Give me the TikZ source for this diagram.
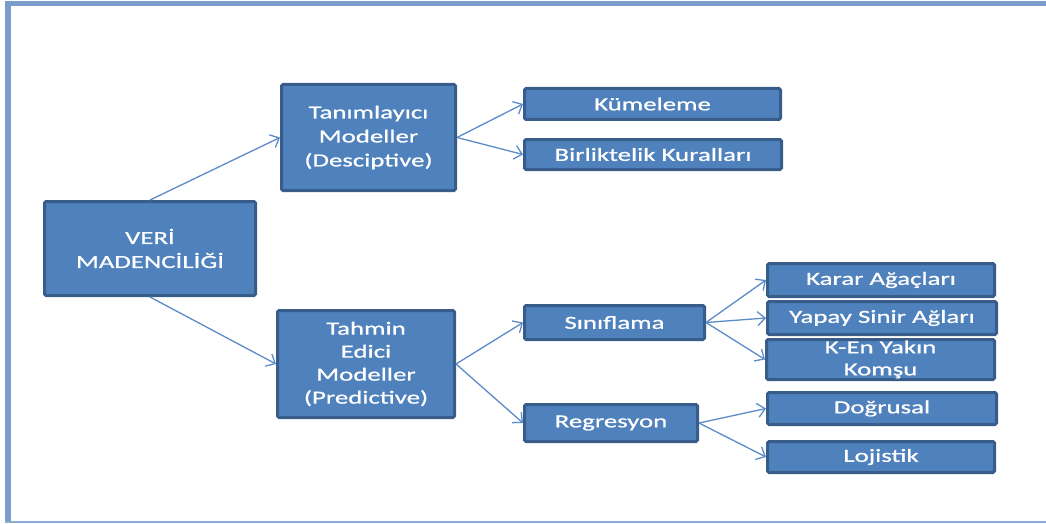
\documentclass[tikz,border=0pt]{standalone}
\usepackage{fontspec}
\setmainfont[FakeStretch=1.45,FakeBold=0.8]{Carlito}
\usetikzlibrary{arrows.meta}
\definecolor{boxfill}{HTML}{4F81BD}
\definecolor{boxline}{HTML}{385D8A}
\definecolor{frameblue}{HTML}{7A9DCB}
\definecolor{linkblue}{HTML}{5B8BC8}
\tikzset{
  box/.style={draw=boxline, fill=boxfill, line width=3pt, rounded corners=1.5pt,
    text=white, align=center, inner sep=0pt, font=\fontsize{18.5}{24}\selectfont},
  link/.style={draw=linkblue, line width=1.3pt, -{Straight Barb[length=7.5pt,width=14pt]}}
}
\begin{document}
\begin{tikzpicture}[x=1pt,y=-1pt]
\useasboundingbox (0,0) rectangle (1046,524);
% frame lines
\fill[frameblue] (5,1.5) rectangle (1046,6);
\fill[frameblue] (5,1.5) rectangle (11,522);
\fill[frameblue!85] (5,520.5) rectangle (1046,522.5);

% root
\node[box, minimum width=211pt, minimum height=94pt] (veri) at (150,248.5) {VERİ\\MADENCİLİĞİ};

% second level
\node[box, minimum width=174pt, minimum height=106pt] (tanim) at (368.5,137.5) {Tanımlayıcı\\Modeller\\(Desciptive)};
\node[box, minimum width=177pt, minimum height=107pt, font=\fontsize{18.5}{23}\selectfont] (tahmin) at (366,364) {Tahmin\\Edici\\Modeller\\(Predictive)};

% descriptive branch
\node[box, minimum width=256pt, minimum height=31pt] (kume) at (652.5,104) {Kümeleme};
\node[box, minimum width=257pt, minimum height=30pt] (birlik) at (653,154.5) {Birliktelik Kuralları};

% predictive branch
\node[box, minimum width=180pt, minimum height=34pt] (sinif) at (614.5,322.5) {Sınıflama};
\node[box, minimum width=173pt, minimum height=37pt] (regr) at (611,423) {Regresyon};

\node[box, minimum width=227pt, minimum height=33pt] (karar) at (881,280) {Karar Ağaçları};
\node[box, minimum width=229pt, minimum height=33pt] (yapay) at (882,318) {Yapay Sinir Ağları};
\node[box, minimum width=228pt, minimum height=40pt, font=\fontsize{18.5}{22}\selectfont] (ken) at (880.5,359.5) {K-En Yakın\\Komşu};

\node[box, minimum width=229pt, minimum height=32pt] (dogru) at (882,408.5) {Doğrusal};
\node[box, minimum width=227pt, minimum height=31pt] (loji) at (881,457) {Lojistik};

% connectors
\draw[link] (veri.north) -- (tanim.west);
\draw[link] (veri.south) -- (tahmin.west);
\draw[link] (tanim.east) -- (kume.west);
\draw[link] (tanim.east) -- (birlik.west);
\draw[link] (tahmin.east) -- (sinif.west);
\draw[link] (tahmin.east) -- (regr.west);
\draw[link] (sinif.east) -- (karar.west);
\draw[link] (sinif.east) -- (yapay.west);
\draw[link] (sinif.east) -- (ken.west);
\draw[link] (regr.east) -- (dogru.west);
\draw[link] (regr.east) -- (loji.west);
\end{tikzpicture}
\end{document}
